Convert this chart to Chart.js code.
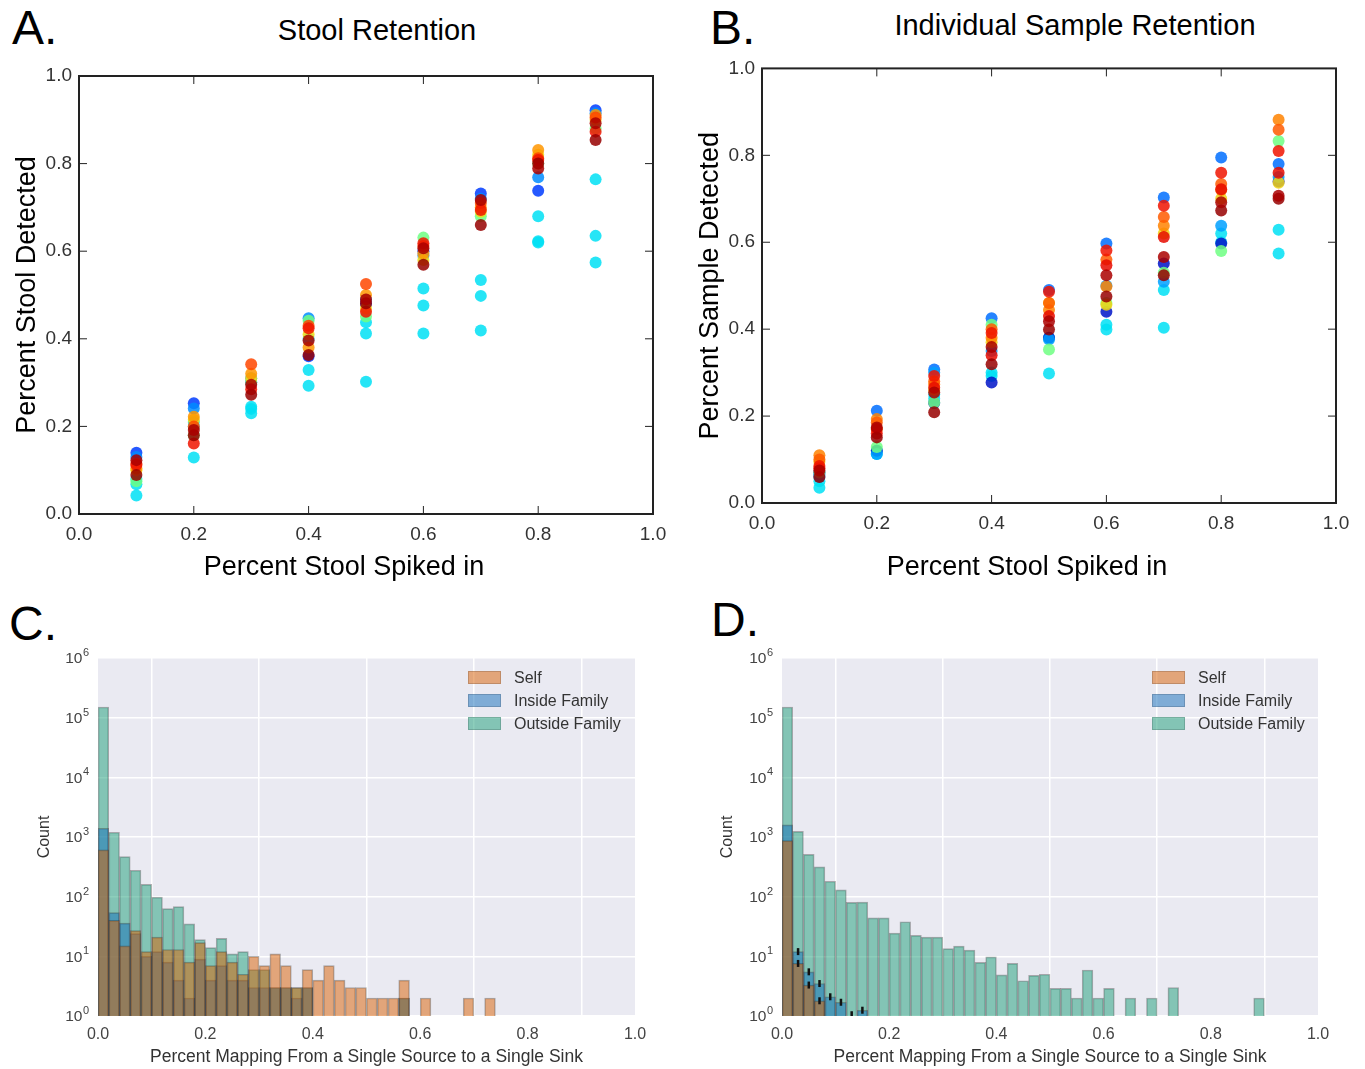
<!DOCTYPE html>
<html>
<head>
<meta charset="utf-8">
<script src="https://cdn.jsdelivr.net/npm/chart.js@4.4.1/dist/chart.umd.min.js"></script>
<style>
  body { margin: 0; background: #fff; width: 1365px; height: 1069px; position: relative; overflow: hidden;
         font-family: "Liberation Sans", Arial, sans-serif; }
  canvas { position: absolute; }
  .letter { position: absolute; font-size: 48px; line-height: 1; color: #000; }
  .title { position: absolute; font-size: 29px; line-height: 1; color: #000; white-space: nowrap; transform: translateX(-50%); }
  .xtitle { position: absolute; font-size: 27px; line-height: 1; color: #000; white-space: nowrap; transform: translateX(-50%); }
  .legend { position: absolute; font-size: 16px; color: #333; }
  .legend div { display: flex; align-items: center; height: 23px; }
  .legend .sw { display: inline-block; width: 31px; height: 11px; margin-right: 13px; border: 1px solid rgba(0,0,0,0.15); }
</style>
</head>
<body>
<div class="letter" style="left:12px;top:4px">A.</div>
<div class="letter" style="left:710px;top:4px">B.</div>
<div class="letter" style="left:9px;top:600px">C.</div>
<div class="letter" style="left:711px;top:596px">D.</div>
<div class="title" style="left:377px;top:16px">Stool Retention</div>
<div class="title" style="left:1075px;top:11px">Individual Sample Retention</div>

<canvas id="chartA" width="680" height="550" style="left:0;top:50px"></canvas>
<canvas id="chartB" width="675" height="550" style="left:690px;top:50px"></canvas>
<canvas id="chartC" width="660" height="430" style="left:0;top:640px"></canvas>
<canvas id="chartD" width="660" height="430" style="left:690px;top:640px"></canvas>

<div class="xtitle" style="left:344px;top:553px">Percent Stool Spiked in</div>
<div class="xtitle" style="left:1027px;top:553px">Percent Stool Spiked in</div>

<div class="legend" id="legendC" style="left:468px;top:666px"></div>
<div class="legend" id="legendD" style="left:1152px;top:666px"></div>

<script>
// ---- scatter data (A, B) ----
const spikeLevels = [0.1, 0.2, 0.3, 0.4, 0.5, 0.6, 0.7, 0.8, 0.9];

const aDarkRed1  = [0.123, 0.192, 0.295, 0.396, 0.490, 0.607, 0.717, 0.789, 0.892];
const aDarkRed2  = [0.089, 0.180, 0.272, 0.363, 0.481, 0.569, 0.660, 0.800, 0.854];
const aRed       = [0.112, 0.161, 0.285, 0.424, 0.462, 0.618, 0.694, 0.808, 0.873];
const aRedOrange = [0.115, 0.200, 0.342, 0.430, 0.525, 0.612, 0.710, 0.812, 0.905];
const aOrange    = [0.104, 0.222, 0.320, 0.380, 0.500, 0.595, 0.700, 0.831, 0.911];
const aYellow    = [0.100, 0.215, 0.310, 0.410, 0.470, 0.580, 0.690, 0.820, 0.900];
const aGreen     = [0.075, 0.180, 0.300, 0.441, 0.451, 0.631, 0.680, 0.800, 0.880];
const aLightBlue = [0.130, 0.241, 0.310, 0.447, 0.490, 0.590, 0.720, 0.769, 0.915];
const aBlue      = [0.140, 0.253, 0.300, 0.360, 0.480, 0.600, 0.732, 0.738, 0.922];
const aCyan1     = [0.068, 0.129, 0.245, 0.329, 0.438, 0.515, 0.534, 0.680, 0.764];
const aCyan2     = [0.042, 0.200, 0.230, 0.293, 0.412, 0.476, 0.498, 0.623, 0.635];
const aCyan3     = [0.080, 0.210, 0.240, 0.400, 0.302, 0.412, 0.419, 0.620, 0.574];

const bDarkRed1  = [0.075, 0.174, 0.254, 0.359, 0.418, 0.524, 0.566, 0.692, 0.707];
const bDarkRed2  = [0.060, 0.151, 0.209, 0.319, 0.399, 0.475, 0.524, 0.673, 0.700];
const bRed       = [0.085, 0.160, 0.292, 0.391, 0.486, 0.581, 0.684, 0.760, 0.810];
const bRed2      = [0.080, 0.170, 0.265, 0.340, 0.430, 0.547, 0.612, 0.722, 0.760];
const bRedOrange = [0.100, 0.185, 0.280, 0.400, 0.460, 0.560, 0.658, 0.734, 0.859];
const bOrange    = [0.110, 0.193, 0.273, 0.380, 0.444, 0.498, 0.638, 0.720, 0.882];
const bYellow    = [0.095, 0.170, 0.260, 0.370, 0.460, 0.456, 0.620, 0.700, 0.737];
const bGreen     = [0.070, 0.129, 0.231, 0.410, 0.353, 0.460, 0.530, 0.580, 0.833];
const bLightBlue = [0.060, 0.113, 0.300, 0.350, 0.376, 0.500, 0.509, 0.638, 0.750];
const bBlue      = [0.065, 0.212, 0.307, 0.425, 0.490, 0.597, 0.703, 0.795, 0.780];
const bDarkBlue  = [0.070, 0.120, 0.230, 0.277, 0.380, 0.440, 0.551, 0.597, 0.740];
const bCyan1     = [0.035, 0.113, 0.240, 0.292, 0.298, 0.399, 0.403, 0.600, 0.574];
const bCyan2     = [0.050, 0.120, 0.250, 0.300, 0.380, 0.410, 0.490, 0.620, 0.629];

// ---- histogram data (C, D): counts per 0.02-wide bin, null = empty bin ----
const binWidth = 0.02;
const selfC = [610, 40, 15, 27, 12, 21, 13, 13, 8, 17, 7, 12, 8, 5, 10, 7, 11, 7, 3, 6,
               4, 7, 4, 3, 3, 2, 2, 2, 4, null, 2, null, 1, null, 2, null, 2, null, null, null,
               1, 1, null, 1, 1, null, null, null, null, null];
const insideC = [1400, 54, 36, 24, 10, 12, 8, 4, 2, 9, 4, 7, 4, 4, 3, 3, 3, 3, 2, 3,
                 null, null, null, null, null, null, null, null, 2, null];
const outsideC = [151000, 1200, 470, 277, 161, 98, 63, 68, 35, 19, 14, 20, 11, 12, 6, 6, 3, 3, 3, 3,
                  null, null, null, null, null, null, null, null, 2, null];

const selfD = [870, 7.6, 3.3, 1.8];
const insideD = [1600, 12, 5.5, 3.5, 2.1, 1.7, 1, 1.25];
const outsideD = [151000, 1240, 510, 315, 181, 130, 80, 81, 44, 44, 24.5, 38, 22.4, 21, 21, 13.5, 14.8, 12.7, 7.9, 9.8,
                  4.9, 7.6, 3.9, 4.8, 5, 2.9, 2.9, 2, 5.9, 2, 2.9, null, 2, null, 2, null, 3, null, null, null,
                  null, null, null, null, 2, null];
// black error ticks on the "Inside Family" bars in D: [bin, count]
const marksD = [[1, 12], [1, 7.6], [2, 5.5], [2, 3.3], [3, 3.5], [3, 1.8], [4, 2.1], [5, 1.7], [6, 1.05], [7, 1.25]];

const axisTicks = [0, 0.2, 0.4, 0.6, 0.8, 1.0];
const countTicks = [1, 10, 100, 1000, 10000, 100000, 1000000];
const countTickExponents = ['0', '1', '2', '3', '4', '5', '6'];

const seriesLabels = ['Self', 'Inside Family', 'Outside Family'];
const seriesColors = ['rgba(217,95,2,0.5)', 'rgba(20,110,185,0.5)', 'rgba(27,158,119,0.5)'];

const FONT = '"Liberation Sans", Arial, sans-serif';
Chart.defaults.font.family = FONT;
Chart.defaults.animation = false;

// matplotlib-like frame with inward ticks on all sides
const framePlugin = {
  id: 'frame',
  afterDraw(chart) {
    const { ctx, chartArea: a, scales } = chart;
    ctx.save();
    ctx.strokeStyle = '#222';
    ctx.lineWidth = 1;
    const seg = (x1, y1, x2, y2) => { ctx.beginPath(); ctx.moveTo(x1, y1); ctx.lineTo(x2, y2); ctx.stroke(); };
    axisTicks.slice(1, -1).forEach(v => {
      const px = scales.x.getPixelForValue(v);
      seg(px, a.bottom, px, a.bottom - 8);
      seg(px, a.top, px, a.top + 8);
      const py = scales.y.getPixelForValue(v);
      seg(a.left, py, a.left + 8, py);
      seg(a.right, py, a.right - 8, py);
    });
    ctx.lineWidth = 2;
    ctx.strokeRect(a.left, a.top, a.right - a.left, a.bottom - a.top);
    ctx.restore();
  }
};

const bgPlugin = {
  id: 'bg',
  beforeDraw(chart) {
    const { ctx, chartArea: a } = chart;
    ctx.save();
    ctx.fillStyle = '#EAEAF2';
    ctx.fillRect(a.left, a.top, a.right - a.left, a.bottom - a.top);
    ctx.restore();
  }
};

// "10" with a raised exponent for the log axis
const logLabelPlugin = {
  id: 'logLabels',
  afterDraw(chart) {
    const { ctx, chartArea: a, scales } = chart;
    ctx.save();
    ctx.fillStyle = '#444';
    ctx.textBaseline = 'middle';
    ctx.textAlign = 'right';
    countTicks.forEach((v, i) => {
      const y = scales.y.getPixelForValue(v);
      ctx.font = '11px ' + FONT;
      const ew = ctx.measureText(countTickExponents[i]).width;
      ctx.fillText(countTickExponents[i], a.left - 9, y - 5);
      ctx.font = '15.5px ' + FONT;
      ctx.fillText('10', a.left - 9.5 - ew, y + 1);
    });
    ctx.restore();
  }
};

function makeScatter(id, series, yTitle, geo) {
  const datasets = series.map(s => ({
    data: spikeLevels.map((x, i) => ({ x: x, y: s[0][i] })),
    backgroundColor: s[1],
    borderWidth: 0,
    pointRadius: 6,
  }));
  new Chart(document.getElementById(id), {
    type: 'scatter',
    data: { datasets },
    options: {
      responsive: false,
      layout: { padding: { top: geo.top, right: geo.right, left: 0, bottom: 0 } },
      plugins: { legend: { display: false }, tooltip: { enabled: false } },
      scales: {
        x: {
          min: 0, max: 1,
          afterBuildTicks: s => { s.ticks = axisTicks.map(v => ({ value: v })); },
          afterFit: s => { s.height = geo.xHeight; },
          grid: { display: false, drawTicks: false },
          border: { display: false },
          ticks: { color: '#333', font: { size: 19 }, padding: 9, maxRotation: 0, callback: v => v.toFixed(1) },
        },
        y: {
          min: 0, max: 1,
          afterBuildTicks: s => { s.ticks = axisTicks.map(v => ({ value: v })); },
          afterFit: s => { s.width = geo.yWidth; },
          grid: { display: false, drawTicks: false },
          border: { display: false },
          ticks: { color: '#333', font: { size: 19 }, padding: 7, callback: v => v.toFixed(1) },
          title: { display: true, text: yTitle, color: '#000', font: { size: 27 }, padding: { top: geo.yTitlePad, bottom: 0 } },
        },
      },
    },
    plugins: [framePlugin],
  });
}

function binData(values) {
  const out = [];
  values.forEach((v, i) => { if (v !== null) out.push({ x: (i + 0.5) * binWidth, y: v }); });
  return out;
}

function makeHist(id, self, inside, outside, marks, geo) {
  const datasets = [];
  if (marks) {
    datasets.push({
      type: 'line', showLine: false,
      data: marks.map(m => ({ x: (m[0] + 0.5) * binWidth, y: m[1] })),
      pointStyle: 'line', rotation: 90, pointRadius: 3.5, borderWidth: 2.5,
      borderColor: '#111', backgroundColor: '#111',
    });
  }
  [self, inside, outside].forEach((vals, k) => {
    datasets.push({
      label: seriesLabels[k],
      data: binData(vals),
      backgroundColor: seriesColors[k],
      borderColor: 'rgba(40,40,40,0.35)',
      borderWidth: 1,
      grouped: false,
      barPercentage: 1,
      categoryPercentage: 1,
    });
  });
  new Chart(document.getElementById(id), {
    type: 'bar',
    data: { datasets },
    options: {
      responsive: false,
      layout: { padding: { top: geo.top, right: geo.right, left: 0, bottom: 0 } },
      plugins: { legend: { display: false }, tooltip: { enabled: false } },
      scales: {
        x: {
          type: 'linear', min: 0, max: 1, offset: false,
          afterBuildTicks: s => { s.ticks = axisTicks.map(v => ({ value: v })); },
          afterFit: s => { s.height = geo.xHeight; },
          grid: { color: '#fff', lineWidth: 1.5, drawTicks: false },
          border: { display: false },
          ticks: { color: '#444', font: { size: 16 }, padding: 9, maxRotation: 0, callback: v => v.toFixed(1) },
          title: { display: true, text: 'Percent Mapping From a Single Source to a Single Sink', color: '#333', font: { size: 17.5 }, padding: { top: 0, bottom: 2 } },
        },
        y: {
          type: 'logarithmic', min: 1, max: 1000000,
          afterBuildTicks: s => { s.ticks = countTicks.map(v => ({ value: v })); },
          afterFit: s => { s.width = geo.yWidth; },
          grid: { color: '#fff', lineWidth: 1.5, drawTicks: false },
          border: { display: false },
          ticks: { display: false },
          title: { display: true, text: 'Count', color: '#333', font: { size: 16 }, padding: { top: geo.yTitlePad, bottom: 0 } },
        },
      },
    },
    plugins: [bgPlugin, logLabelPlugin],
  });
}

function makeLegend(id) {
  const box = document.getElementById(id);
  seriesLabels.forEach((lab, k) => {
    const row = document.createElement('div');
    row.innerHTML = '<span class="sw" style="background:' + seriesColors[k] + '"></span>' + lab;
    box.appendChild(row);
  });
}

makeScatter('chartA', [
  [aDarkRed1, 'rgba(170,0,0,0.85)'], [aDarkRed2, 'rgba(150,0,0,0.85)'], [aRed, 'rgba(240,20,0,0.85)'],
  [aRedOrange, 'rgba(255,70,0,0.85)'], [aOrange, 'rgba(255,150,0,0.85)'], [aYellow, 'rgba(240,220,20,0.85)'],
  [aGreen, 'rgba(110,255,130,0.85)'], [aLightBlue, 'rgba(0,140,255,0.85)'], [aBlue, 'rgba(0,60,255,0.85)'],
  [aCyan1, 'rgba(0,225,245,0.85)'], [aCyan2, 'rgba(0,225,245,0.85)'], [aCyan3, 'rgba(0,225,245,0.85)'],
], 'Percent Stool Detected', { top: 26, right: 27, xHeight: 86, yWidth: 79, yTitlePad: 11 });

makeScatter('chartB', [
  [bDarkRed1, 'rgba(170,0,0,0.85)'], [bDarkRed2, 'rgba(150,0,0,0.85)'], [bRed, 'rgba(240,20,0,0.85)'],
  [bRed2, 'rgba(230,10,0,0.85)'], [bRedOrange, 'rgba(255,90,0,0.85)'], [bOrange, 'rgba(255,130,0,0.85)'],
  [bYellow, 'rgba(240,210,20,0.85)'], [bGreen, 'rgba(110,255,130,0.85)'], [bLightBlue, 'rgba(0,160,255,0.85)'],
  [bBlue, 'rgba(0,110,255,0.85)'], [bDarkBlue, 'rgba(0,20,200,0.85)'],
  [bCyan1, 'rgba(0,225,245,0.85)'], [bCyan2, 'rgba(0,225,245,0.85)'],
], 'Percent Sample Detected', { top: 15, right: 29, xHeight: 97, yWidth: 72, yTitlePad: 4 });

makeHist('chartC', selfC, insideC, outsideC, null, { top: 18, right: 25, xHeight: 54, yWidth: 98, yTitlePad: 35 });
makeHist('chartD', selfD, insideD, outsideD, marksD, { top: 18, right: 32, xHeight: 54, yWidth: 92, yTitlePad: 28 });

makeLegend('legendC');
makeLegend('legendD');
</script>
</body>
</html>
